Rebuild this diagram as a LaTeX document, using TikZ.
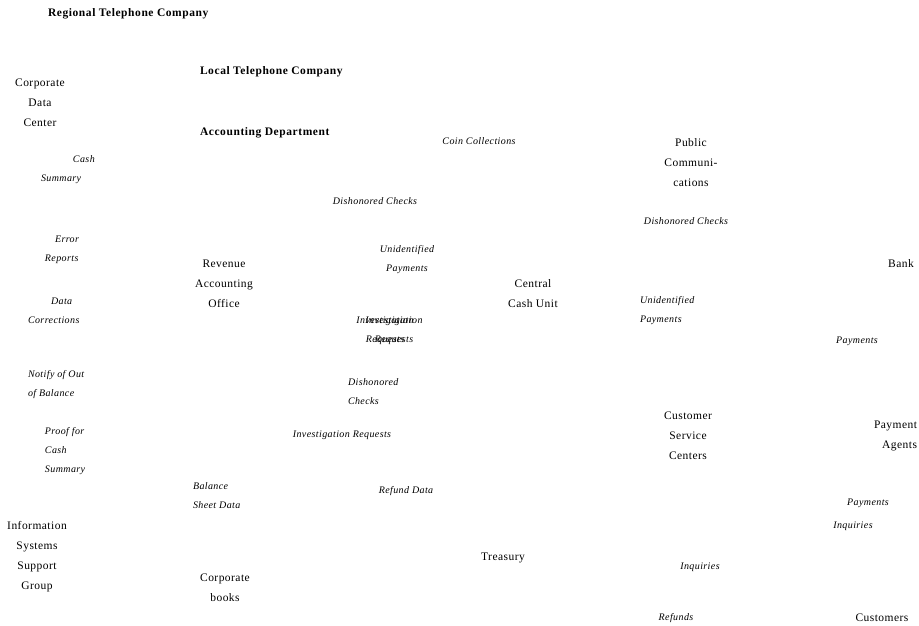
\documentclass[tikz,border=0pt]{standalone}
\usepackage{fontspec}
\setmainfont{Liberation Serif}
\newfontfamily\entfont[LetterSpace=4]{Liberation Serif}
\newfontfamily\flowfont[LetterSpace=4]{Liberation Serif}
\newfontfamily\titlefont[LetterSpace=5]{Liberation Serif}
\begin{document}
\begin{tikzpicture}[x=1pt,y=-1pt,
  every node/.style={inner sep=0pt,outer sep=0pt},
  entity/.style={align=center,font=\entfont\fontsize{11.5}{20}\selectfont},
  flow/.style={align=center,font=\flowfont\itshape\fontsize{10}{19}\selectfont},
  flowl/.style={flow,align=left},
  title/.style={font=\titlefont\bfseries\fontsize{11.5}{13}\selectfont}]
\useasboundingbox (0,0) rectangle (919,626);
% group titles
\node[title,anchor=west] (rtc) at (48,14) {Regional Telephone Company};
\node[title,anchor=west] (ltc) at (200,72) {Local Telephone Company};
\node[title,anchor=west] (acc) at (200,133) {Accounting Department};
% entities
\node[entity] (cdc) at (40,103) {Corporate\\Data\\Center};
\node[entity] (isg) at (37,557) {Information\\Systems\\Support\\Group};
\node[entity] (rao) at (224,284) {Revenue\\Accounting\\Office};
\node[entity] (cbk) at (225,588) {Corporate\\books};
\node[entity] (ccu) at (533,294) {Central\\Cash Unit};
\node[entity] (tre) at (503,558) {Treasury};
\node[entity] (pcm) at (691,163) {Public\\Communi-\\cations};
\node[entity] (csc) at (688,436) {Customer\\Service\\Centers};
\node[entity] (bnk) at (901,264) {Bank};
\node[entity,align=right,anchor=east] (pag) at (917,436) {Payment\\Agents};
\node[entity] (cus) at (882,618) {Customers};
% flow labels, left column
\node[flowl,anchor=west] (f1) at (41,170) {\hspace*{32pt}Cash\\Summary};
\node[flowl,anchor=west] (f2) at (45,250) {\hspace*{10pt}Error\\Reports};
\node[flowl,anchor=west] (f3) at (28,311) {\hspace*{23pt}Data\\Corrections};
\node[flowl,anchor=west] (f4) at (28,385) {Notify of Out\\of Balance};
\node[flowl,anchor=west] (f5) at (45,451) {Proof for\\Cash\\Summary};
% flow labels, middle
\node[flow] (f6) at (479,141) {Coin Collections};
\node[flow] (f7) at (375,201) {Dishonored Checks};
\node[flow] (f8) at (407,260) {Unidentified\\Payments};
\node[flow] (f9) at (385,331) {Investigation\\Requests};
\node[flow] (f10) at (394,331) {Investigation\\Requests};
\node[flowl,anchor=west] (f11) at (348,392) {Dishonored\\Checks};
\node[flow] (f12) at (342,435) {Investigation Requests};
\node[flowl,anchor=west] (f13) at (193,496) {Balance\\Sheet Data};
\node[flow] (f14) at (406,491) {Refund Data};
% flow labels, right
\node[flow] (f15) at (686,221) {Dishonored Checks};
\node[flowl,anchor=west] (f16) at (640,311) {Unidentified\\Payments};
\node[flow] (f17) at (857,341) {Payments};
\node[flow] (f18) at (868,503) {Payments};
\node[flow] (f19) at (853,526) {Inquiries};
\node[flow] (f20) at (700,567) {Inquiries};
\node[flow] (f21) at (676,618) {Refunds};
\end{tikzpicture}
\end{document}
